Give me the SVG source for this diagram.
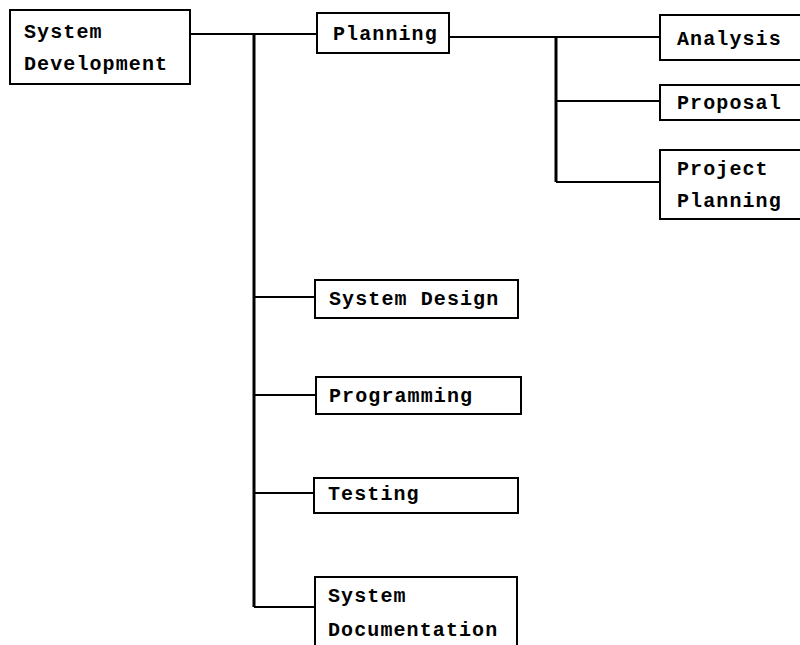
<svg xmlns="http://www.w3.org/2000/svg" width="800" height="645" viewBox="0 0 800 645">
<style>
.box{fill:#fff;stroke:#000;stroke-width:2}
.t{font-family:"Liberation Mono","DejaVu Sans Mono",monospace;font-weight:bold;font-size:20px;letter-spacing:1.1px;fill:#000}
.c{fill:none;stroke:#000;stroke-width:2}
.trunk{fill:none;stroke:#000;stroke-width:3}
</style>
<rect width="800" height="645" fill="#fff"/>
<g id="connectors">
<path class="c" d="M190 34H317"/>
<path class="trunk" d="M254 34V607"/>
<path class="c" d="M254 297H315M254 395H316M254 493H314M254 607H315"/>
<path class="c" d="M449 37H660"/>
<path class="trunk" d="M556 37V182"/>
<path class="c" d="M556 101H660M556 182H660"/>
</g>
<g id="system-development"><rect class="box" x="10" y="10" width="180" height="74"/><text class="t" x="24" y="38">System</text><text class="t" x="24" y="70">Development</text></g>
<g id="planning"><rect class="box" x="317" y="13" width="132" height="40"/><text class="t" x="333" y="40">Planning</text></g>
<g id="analysis"><rect class="box" x="660" y="15" width="141" height="45"/><text class="t" x="677" y="45">Analysis</text></g>
<g id="proposal"><rect class="box" x="660" y="85" width="141" height="35"/><text class="t" x="677" y="109">Proposal</text></g>
<g id="project-planning"><rect class="box" x="660" y="150" width="141" height="69"/><text class="t" x="677" y="175">Project</text><text class="t" x="677" y="207">Planning</text></g>
<g id="system-design"><rect class="box" x="315" y="280" width="203" height="38"/><text class="t" x="329" y="305">System Design</text></g>
<g id="programming"><rect class="box" x="316" y="377" width="205" height="37"/><text class="t" x="329" y="402">Programming</text></g>
<g id="testing"><rect class="box" x="314" y="478" width="204" height="35"/><text class="t" x="328" y="500">Testing</text></g>
<g id="system-documentation"><rect class="box" x="315" y="577" width="202" height="70"/><text class="t" x="328" y="602">System</text><text class="t" x="328" y="636">Documentation</text></g>
</svg>
